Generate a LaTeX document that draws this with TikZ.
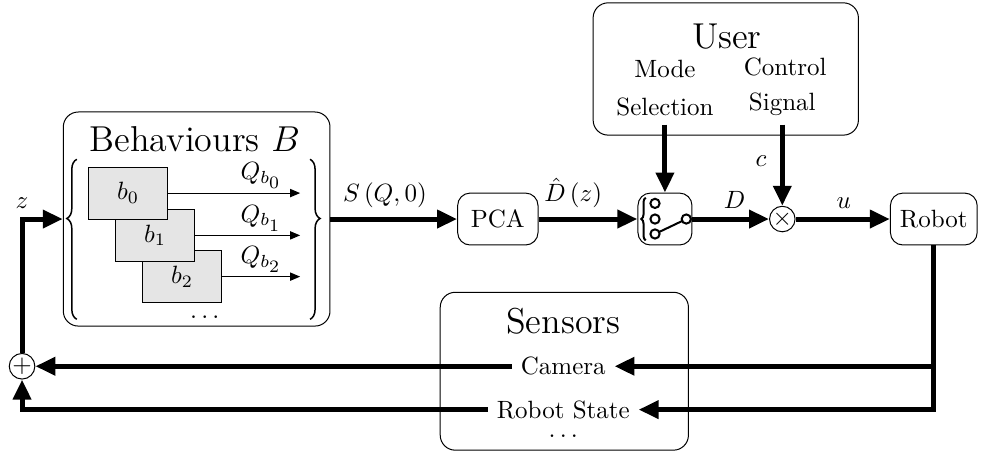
\documentclass[tikz,border=0pt]{standalone}
\usetikzlibrary{arrows.meta, positioning, decorations.pathreplacing}

\tikzset{
  block/.style={draw, rounded corners=5pt, minimum width=1.13cm, minimum height=0.73cm},
  group/.style={draw, rounded corners=6pt},
  beh/.style={draw, fill=black!10, minimum width=1.12cm, minimum height=0.73cm},
  sig/.style={line width=2pt, -{Triangle[length=8pt, width=7pt]}},
  qarrow/.style={-{Triangle[length=4pt, width=3.3pt]}},
  curly/.style={decorate, semithick, decoration={brace, amplitude=4pt, #1}},
  port/.style={draw, thick, fill=white, circle, inner sep=0pt, minimum size=0.13cm},
}

\begin{document}
\begin{tikzpicture}
\useasboundingbox (0, 0) rectangle (13.85, 6.36);

% behaviours
\node[group, minimum width=3.75cm, minimum height=3.01cm] (behav) at (2.765, 3.28) {};
\node (behavtitle) at (2.74, 4.40) {\Large Behaviours $B$};
\draw[curly={aspect=0.63}] (1.08, 1.87) -- (1.08, 4.12);
\draw[curly={aspect=0.37}] (4.36, 4.12) -- (4.36, 1.87);

\node[beh] (b2) at (2.56, 2.47) {$b_2$};
\node[beh] (b1) at (2.18, 3.05) {$b_1$};
\node[beh] (b0) at (1.80, 3.645) {$b_0$};
\coordinate (qend) at (4.22, 0);
\draw[qarrow] (b0.east) -- (b0.east -| qend) node[above, xshift=-0.55cm, inner sep=1.5pt] {$Q_{b_{\scriptstyle 0}}$};
\draw[qarrow] (b1.east) -- (b1.east -| qend) node[above, xshift=-0.55cm, inner sep=1.5pt] {$Q_{b_{\scriptstyle 1}}$};
\draw[qarrow] (b2.east) -- (b2.east -| qend) node[above, xshift=-0.55cm, inner sep=1.5pt] {$Q_{b_{\scriptstyle 2}}$};
\node[inner sep=0pt] (behavdots) at (2.88, 1.90) {$\dots$};

% forward path
\node[block] (pca) at (7.0, 3.28) {PCA};
\node[block, minimum width=0.76cm] (switch) at (9.35, 3.28) {};
\node[draw, circle, inner sep=0pt, minimum size=0.33cm] (mult) at (11.0, 3.28) {$\times$};
\node[block, minimum width=1.22cm] (robot) at (13.13, 3.28) {Robot};

% switch symbol
\begin{scope}[shift={(switch.center)}]
\draw[curly={amplitude=1.8pt}, thick] (-0.27, -0.30) -- (-0.27, 0.30);
\draw[thick] (-0.14, -0.21) -- (0.30, 0);
\node[port] (in0) at (-0.14, 0.22) {};
\node[port] (in1) at (-0.14, 0) {};
\node[port] (in2) at (-0.14, -0.21) {};
\node[port] (out) at (0.30, 0) {};
\end{scope}

\draw[sig] (behav) -- (pca) node[pos=0.43, above] {$S\left(Q,0\right)$};
\draw[sig] (pca) -- (switch) node[pos=0.35, above] {$\hat{D}\left(z\right)$};
\draw[sig] (switch) -- (mult) node[pos=0.55, above] {$D$};
\draw[sig] (mult) -- (robot) node[pos=0.51, above] {$u$};

% user
\node[group, minimum width=3.73cm, minimum height=1.86cm] (user) at (10.205, 5.39) {};
\node (usertitle) at (10.22, 5.84) {\Large User};
\node (mode) at (9.35, 5.39) {Mode};
\node (select) at (9.35, 4.86) {Selection};
\node (control) at (11.04, 5.42) {Control};
\node (signal) at (11.0, 4.89) {Signal};
\draw[sig] (select) -- (switch);
\draw[sig] (signal) -- (mult) node[pos=0.45, left=2pt] {$c$};

% sensors and feedback
\node[group, minimum width=3.49cm, minimum height=2.22cm] (sensors) at (7.935, 1.14) {};
\node (sensortitle) at (7.92, 1.85) {\Large Sensors};
\node (camera) at (7.92, 1.21) {Camera};
\node (state) at (7.92, 0.60) {Robot State};
\node[inner sep=0pt] (sensordots) at (7.92, 0.22) {$\dots$};
\node[draw, circle, inner sep=0pt, minimum size=0.36cm] (sum) at (0.31, 1.21) {$+$};

\draw[sig] (robot.south) |- (camera.east);
\draw[sig] (robot.south) |- (state.east);
\draw[sig] (camera.west) -- (sum.east);
\draw[sig] (state.west) -| (sum.south);
\draw[sig] (sum.north) |- (behav.west) node[pos=0.5, above] {$z$};
\end{tikzpicture}
\end{document}
